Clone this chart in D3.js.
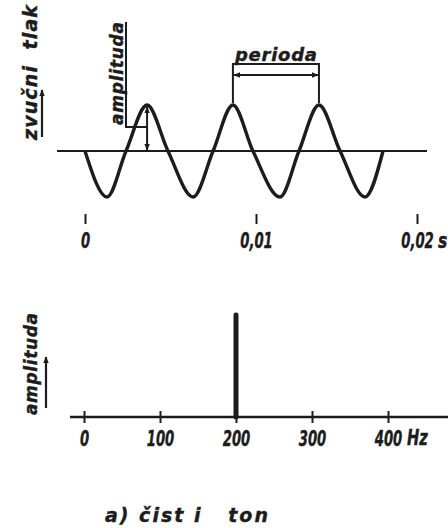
<!DOCTYPE html>
<html>
<head>
<meta charset="utf-8">
<script src="https://cdn.jsdelivr.net/npm/d3@7"></script>
<style>
	html, body { margin: 0; padding: 0; background: #fff; }
	svg text { font-family: "DejaVu Sans", sans-serif; font-weight: bold; font-style: italic; fill: #1c1c1c; stroke: #1c1c1c; stroke-width: 0.4px; }
</style>
</head>
<body>
<div id="viz"></div>
<script>
var w = 448,
	h = 528,
	ink = '#1c1c1c',
	squeeze = 'scale(0.63,1)'; // the drawing uses narrow hand lettering for numbers

// sound pressure wave, key points (s, relative pressure)
var wave_time = [0, 0.00129, 0.0024, 0.00363, 0.00485, 0.00632, 0.00749, 0.00865, 0.00982, 0.01149, 0.01267, 0.01391, 0.01522, 0.01677, 0.01789];
var wave_pressure = [0, -1, 0, 1, 0, -1, 0, 1, 0, -1, 0, 1, 0, -1, 0];
var time_ticks = [0, 0.01, 0.02],
	time_labels = ['0', '0,01', '0,02'];

// spectrum of the pure tone
var spectrum_freq = [200],
	spectrum_amp = [1];
var freq_ticks = [0, 100, 200, 300, 400],
	freq_labels = ['0', '100', '200', '300', '400'];

var svg = d3.select('#viz').append('svg')
	.attr('width', w)
	.attr('height', h)
	.attr('viewBox', '0 0 ' + w + ' ' + h);

var defs = svg.append('defs');
defs.append('marker')
	.attr('id', 'head')
	.attr('viewBox', '0 0 10 10')
	.attr('refX', 9).attr('refY', 5)
	.attr('markerWidth', 7).attr('markerHeight', 7)
	.attr('markerUnits', 'userSpaceOnUse')
	.attr('orient', 'auto-start-reverse')
	.append('path')
		.attr('d', 'M0,1 L10,5 L0,9 Z')
		.attr('fill', ink);

//TOP: time signal
var x = d3.scaleLinear().domain([0, 0.01, 0.02]).range([85, 256, 417]),
	y = d3.scaleLinear().domain([-1, 1]).range([197, 105]);

svg.append('line')
	.attr('x1', 57).attr('x2', 427)
	.attr('y1', y(0)).attr('y2', y(0))
	.attr('stroke', ink).attr('stroke-width', 2);

var line = d3.line()
	.x(function(d){ return x(d[0]); })
	.y(function(d){ return y(d[1]); })
	.curve(d3.curveMonotoneX);

svg.append('path')
	.datum(d3.zip(wave_time, wave_pressure))
	.attr('d', line)
	.attr('fill', 'none')
	.attr('stroke', ink)
	.attr('stroke-width', 3.4)
	.attr('stroke-linejoin', 'round');

var timeAxis = svg.append('g')
	.attr('transform', 'translate(0,214)')
	.call(d3.axisBottom(x).tickValues(time_ticks).tickSize(10).tickPadding(9)
		.tickFormat(function(d, i){ return time_labels[i]; }));
timeAxis.select('.domain').remove();
timeAxis.selectAll('line').attr('stroke', ink).attr('stroke-width', 2);
timeAxis.selectAll('text')
	.attr('font-size', 21)
	.attr('font-family', null)
	.attr('fill', ink)
	.attr('transform', squeeze);

svg.append('text')
	.attr('transform', 'translate(' + (x(0.02) + 21) + ',248) scale(0.75,1)')
	.attr('font-size', 21)
	.text('s');

// y label with arrow
svg.append('text')
	.attr('transform', 'translate(37,140) rotate(-90)')
	.attr('font-size', 19)
	.attr('textLength', 135)
	.attr('lengthAdjust', 'spacing')
	.style('white-space', 'pre')
	.text('zvučni  tlak');
svg.append('line')
	.attr('x1', 42).attr('x2', 42)
	.attr('y1', 137).attr('y2', 90)
	.attr('stroke', ink).attr('stroke-width', 2.2)
	.attr('marker-end', 'url(#head)');

// amplitude annotation on the first peak
var peak1 = wave_time[3];
svg.append('text')
	.attr('transform', 'translate(123,125) rotate(-90)')
	.attr('font-size', 17)
	.attr('textLength', 103)
	.attr('lengthAdjust', 'spacing')
	.text('amplituda');
svg.append('path')
	.attr('d', 'M126,22 L126,127 L' + x(peak1) + ',127')
	.attr('fill', 'none')
	.attr('stroke', ink).attr('stroke-width', 2);
svg.append('line')
	.attr('x1', x(peak1)).attr('x2', x(peak1))
	.attr('y1', y(1) + 2).attr('y2', y(0) - 1)
	.attr('stroke', ink).attr('stroke-width', 2)
	.attr('marker-start', 'url(#head)')
	.attr('marker-end', 'url(#head)');

// period annotation between peaks 2 and 3
var p2 = x(wave_time[7]),
	p3 = x(wave_time[11]);
svg.append('text')
	.attr('x', (p2 + p3) / 2).attr('y', 61)
	.attr('text-anchor', 'middle')
	.attr('font-size', 18)
	.attr('textLength', 82)
	.attr('lengthAdjust', 'spacing')
	.text('perioda');
svg.append('path')
	.attr('d', 'M' + p2 + ',' + (y(1) - 2) + ' L' + p2 + ',64 L' + p3 + ',64 L' + p3 + ',' + (y(1) - 2))
	.attr('fill', 'none')
	.attr('stroke', ink).attr('stroke-width', 2);
svg.append('line')
	.attr('x1', p2 + 1).attr('x2', p3 - 1)
	.attr('y1', 75).attr('y2', 75)
	.attr('stroke', ink).attr('stroke-width', 2)
	.attr('marker-start', 'url(#head)')
	.attr('marker-end', 'url(#head)');

//BOTTOM: spectrum
var fx = d3.scaleLinear().domain([0, 400]).range([84, 388]),
	fy = d3.scaleLinear().domain([0, 1]).range([417, 315]);

svg.append('line')
	.attr('x1', 70).attr('x2', 448)
	.attr('y1', fy(0)).attr('y2', fy(0))
	.attr('stroke', ink).attr('stroke-width', 2.5);

var freqAxis = svg.append('g')
	.attr('transform', 'translate(0,' + fy(0) + ')')
	.call(d3.axisBottom(fx).tickValues(freq_ticks).tickSize(6).tickPadding(8)
		.tickFormat(function(d, i){ return freq_labels[i]; }));
freqAxis.select('.domain').remove();
freqAxis.selectAll('line').attr('y1', -6).attr('stroke', ink).attr('stroke-width', 2);
freqAxis.selectAll('text')
	.attr('font-size', 21)
	.attr('font-family', null)
	.attr('fill', ink)
	.attr('transform', squeeze);

svg.append('text')
	.attr('transform', 'translate(' + (fx(400) + 19) + ',445) scale(0.7,1)')
	.attr('font-size', 21)
	.text('Hz');

svg.selectAll('.spike')
	.data(d3.zip(spectrum_freq, spectrum_amp))
	.enter().append('line')
		.attr('class', 'spike')
		.attr('x1', function(d){ return fx(d[0]); })
		.attr('x2', function(d){ return fx(d[0]); })
		.attr('y1', function(d){ return fy(d[1]); })
		.attr('y2', fy(0))
		.attr('stroke', ink)
		.attr('stroke-width', 5)
		.attr('stroke-linecap', 'round');

svg.append('text')
	.attr('transform', 'translate(37,415) rotate(-90)')
	.attr('font-size', 17)
	.attr('textLength', 102)
	.attr('lengthAdjust', 'spacing')
	.text('amplituda');
svg.append('line')
	.attr('x1', 46).attr('x2', 46)
	.attr('y1', 408).attr('y2', 357)
	.attr('stroke', ink).attr('stroke-width', 2.2)
	.attr('marker-end', 'url(#head)');

// caption
svg.append('text')
	.attr('x', 105).attr('y', 522)
	.attr('font-size', 19)
	.attr('letter-spacing', 2)
	.style('white-space', 'pre')
	.text('a) čist i   ton');
</script>
</body>
</html>
